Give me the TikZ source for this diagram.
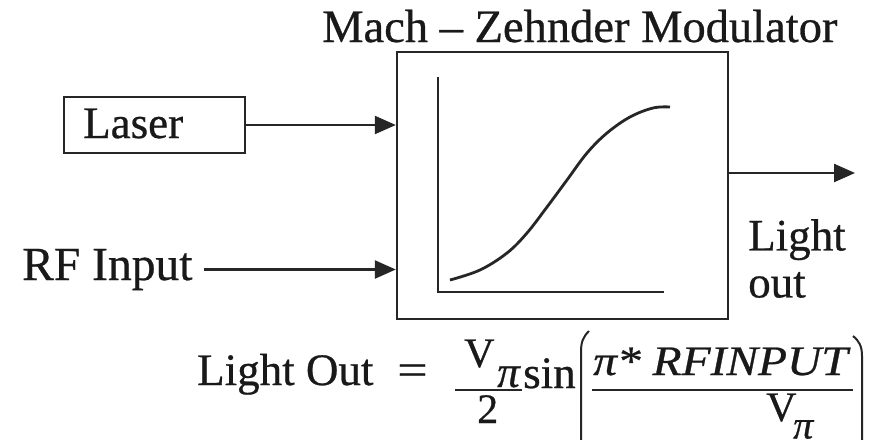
\documentclass[tikz,border=0pt]{standalone}
\usepackage{fontspec}
\setmainfont{Liberation Serif}[FakeBold=0.6]
\usetikzlibrary{arrows.meta}
\begin{document}
\begin{tikzpicture}[x=1pt,y=-1pt,
  ln/.style={draw=black!85, line width=2.4pt},
  arr/.style={ln, -{Triangle[length=21pt,width=18pt]}},
  txt/.style={inner sep=0pt, text=black!90, font=\fontsize{45}{47}\selectfont},
  small/.style={inner sep=0pt, text=black!90, font=\fontsize{42}{44}\selectfont},
  boxnode/.style={ln, inner sep=0pt},
]
\useasboundingbox (0,0) rectangle (875,439);
\clip (0,0) rectangle (875,439);
\fill[white] (0,0) rectangle (875,439);

% title
\node[txt, anchor=base west, font=\fontsize{46.5}{48}\selectfont] (title) at (322,42) {Mach – Zehnder Modulator};

% main modulator box
\node[boxnode, minimum width=331pt, minimum height=267pt] (main) at (562.5,185.5) {};

% transfer curve inside
\coordinate (ytop) at (438,77);
\coordinate (orig) at (438,292);
\coordinate (xend) at (664,292);
\draw[ln] (ytop) -- (orig) -- (xend);
\draw[ln, line width=2.8pt] plot[smooth, tension=0.6] coordinates {(450,280) (480,270) (507,253) (527,233) (547,207) (567,180) (587,153) (607,133) (630,117) (653,108) (670,107)};

% laser
\node[boxnode, minimum width=181pt, minimum height=56pt] (laserbox) at (154.5,125) {};
\node[txt, anchor=base west] (laser) at (83,138) {Laser};
\draw[arr] (laserbox.east) -- (laserbox.east -| main.west);

% RF input
\node[txt, anchor=base west, font=\fontsize{47.5}{49}\selectfont] (rf) at (22,280) {RF Input};
\draw[arr] ([xshift=11pt]rf.east) -- (rf.east -| main.west);

% output
\coordinate (outend) at (855,173);
\draw[arr] (main.east |- outend) -- (outend);
\node[txt, anchor=north west, align=left] (lout) at (748,219) {Light\\out};

% formula
\node[txt, anchor=base west] (lo) at (197,385) {Light Out};
\node[txt, anchor=base west, xscale=1.2, transform shape] (eq) at (397,385) {=};
\node[small, anchor=base west] (v1) at (464,367) {V};
\node[small, anchor=base west] (two) at (477,423) {2};
\node[txt, anchor=base west] (pi1) at (497,387) {\itshape π};
\draw[ln] (455,390) -- (522,390);
\node[txt, anchor=base west] (sin) at (523,388) {sin};
% big parentheses
\draw[ln, line width=2pt] (589,331) .. controls (583,337) and (581,342) .. (581,352) -- (581,450);
\draw[ln, line width=2pt] (853,336) .. controls (859,341) and (862,346) .. (862,356) -- (862,450);
\draw[ln] (592,390) -- (853,390);
\node[txt, anchor=base west, font=\fontsize{42}{44}\selectfont\itshape, xscale=1.13, transform shape] (num) at (593,375) {π* RFINPUT};
\node[small, anchor=base west] (v2) at (766,421) {V};
\node[txt, anchor=base west, font=\fontsize{40}{42}\selectfont\itshape] (pi2) at (793,438.5) {π};
\end{tikzpicture}
\end{document}
